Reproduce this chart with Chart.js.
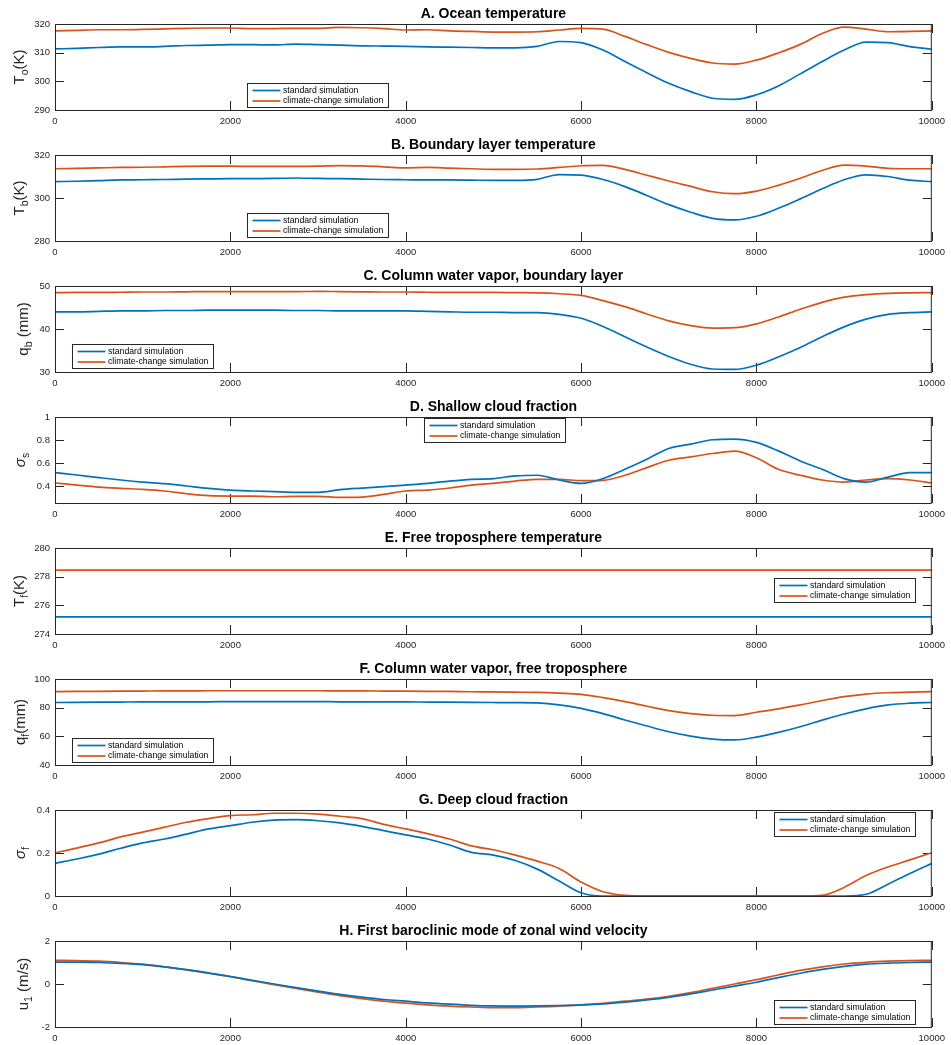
<!DOCTYPE html>
<html>
<head>
<meta charset="utf-8">
<script src="https://cdn.jsdelivr.net/npm/chart.js@4.4.1/dist/chart.umd.min.js"></script>
<style>
  html, body { margin: 0; padding: 0; background: #fff; }
  #wrap { position: relative; width: 951px; height: 1045px; }
  #wrap canvas { position: absolute; left: 0; }
</style>
</head>
<body>
<div id="wrap"></div>
<script>
// x grid of the model domain, every 250
const xs = [0,250,500,750,1000,1250,1500,1750,2000,2250,2500,2750,3000,3250,3500,3750,4000,4250,4500,4750,
  5000,5250,5500,5750,6000,6250,6500,6750,7000,7250,7500,7750,8000,8250,8500,8750,9000,9250,9500,9750,10000];
const xTicks = [0, 2000, 4000, 6000, 8000, 10000];

// A. ocean temperature (K)
const oceanStd = [311.3,311.5,311.8,312.0,312.0,312.2,312.5,312.6,312.8,312.8,312.7,313.0,312.8,312.6,312.4,312.3,312.2,312.0,311.9,311.8,
  311.7,311.7,312.2,313.9,313.5,310.9,306.9,303.0,299.3,296.4,294.1,293.7,295.3,298.4,302.6,306.9,310.9,313.7,313.5,312.1,311.2];
const oceanCC = [317.6,317.8,318.0,318.0,318.1,318.3,318.5,318.6,318.6,318.4,318.4,318.5,318.5,318.8,318.7,318.4,317.9,318.0,317.6,317.4,
  317.2,317.2,317.3,317.9,318.5,318.2,315.7,312.8,310.1,308.0,306.4,306.0,307.4,309.9,312.9,316.7,318.9,318.2,317.3,317.4,317.6];
const oceanTicks = [290, 300, 310, 320];

// B. boundary layer temperature (K)
const blStd = [307.6,307.8,308.1,308.4,308.5,308.6,308.8,308.9,309.0,309.0,309.1,309.3,309.1,309.0,308.8,308.6,308.5,308.4,308.4,308.3,
  308.2,308.2,308.7,310.9,310.6,308.6,305.3,301.2,296.9,293.4,290.5,289.8,291.5,295.2,299.6,304.3,308.5,310.8,310.0,308.3,307.6];
const blCC = [313.6,313.8,314.0,314.2,314.3,314.5,314.7,314.8,314.8,314.7,314.7,314.7,314.8,315.1,314.9,314.5,314.0,314.2,313.9,313.6,
  313.3,313.3,313.5,314.2,315.0,315.2,313.3,310.6,307.9,305.4,302.9,302.0,303.2,305.9,309.2,312.8,315.3,314.8,313.8,313.6,313.6];
const blTicks = [280, 300, 320];

// C. column water vapor, boundary layer (mm)
const qbStd = [44.0,44.0,44.1,44.2,44.2,44.3,44.3,44.4,44.4,44.4,44.4,44.3,44.3,44.2,44.2,44.2,44.2,44.1,44.0,43.9,
  43.9,43.8,43.8,43.4,42.5,40.6,38.2,35.8,33.6,31.8,30.7,30.6,31.6,33.5,35.7,38.2,40.5,42.3,43.4,43.8,44.0];
const qbCC = [48.45,48.5,48.5,48.55,48.6,48.6,48.65,48.7,48.7,48.7,48.7,48.7,48.75,48.7,48.65,48.6,48.6,48.55,48.5,48.5,
  48.5,48.45,48.4,48.2,47.8,46.6,45.2,43.5,41.9,40.8,40.2,40.3,41.2,42.8,44.6,46.2,47.4,48.0,48.3,48.4,48.45];
const qbTicks = [30, 40, 50];

// D. shallow cloud fraction
const sigSStd = [0.519,0.498,0.476,0.455,0.437,0.423,0.403,0.383,0.368,0.36,0.354,0.348,0.348,0.371,0.385,0.397,0.411,0.426,0.446,0.461,
  0.467,0.49,0.496,0.455,0.426,0.467,0.548,0.635,0.728,0.765,0.803,0.809,0.78,0.707,0.62,0.548,0.467,0.437,0.48,0.519,0.519];
const sigSCC = [0.429,0.411,0.394,0.383,0.374,0.36,0.336,0.319,0.316,0.316,0.31,0.313,0.313,0.304,0.307,0.33,0.36,0.368,0.386,0.411,
  0.426,0.446,0.461,0.461,0.449,0.452,0.496,0.562,0.626,0.655,0.684,0.704,0.647,0.548,0.496,0.455,0.437,0.455,0.467,0.455,0.429];
const sigSTicks = [0.4, 0.6, 0.8, 1];

// E. free troposphere temperature (K)
const tfStd = [275.2,275.2,275.2,275.2,275.2,275.2,275.2,275.2,275.2,275.2,275.2,275.2,275.2,275.2,275.2,275.2,275.2,275.2,275.2,275.2,
  275.2,275.2,275.2,275.2,275.2,275.2,275.2,275.2,275.2,275.2,275.2,275.2,275.2,275.2,275.2,275.2,275.2,275.2,275.2,275.2,275.2];
const tfCC = [278.45,278.45,278.45,278.45,278.45,278.45,278.45,278.45,278.45,278.45,278.45,278.45,278.45,278.45,278.45,278.45,278.45,278.45,278.45,278.45,
  278.45,278.45,278.45,278.45,278.45,278.45,278.45,278.45,278.45,278.45,278.45,278.45,278.45,278.45,278.45,278.45,278.45,278.45,278.45,278.45,278.45];
const tfTicks = [274, 276, 278, 280];

// F. column water vapor, free troposphere (mm)
const qfStd = [83.6,83.7,83.8,83.9,84.0,84.0,84.1,84.1,84.2,84.2,84.2,84.2,84.2,84.1,84.1,84.0,84.0,83.9,83.8,83.7,
  83.6,83.5,83.3,82.0,79.5,75.8,71.4,67.2,63.2,60.2,58.1,57.5,59.5,62.8,66.7,71.3,75.6,79.2,81.9,83.1,83.6];
const qfCC = [91.2,91.3,91.4,91.5,91.6,91.7,91.7,91.8,91.8,91.8,91.8,91.8,91.8,91.7,91.7,91.6,91.5,91.4,91.3,91.1,
  91.0,90.8,90.6,90.1,89.3,87.0,84.2,81.0,77.9,75.9,74.7,74.5,76.8,79.2,81.9,85.0,87.7,89.5,90.4,90.8,91.2];
const qfTicks = [40, 60, 80, 100];

// G. deep cloud fraction
const sigFStd = [0.152,0.172,0.195,0.222,0.247,0.265,0.288,0.312,0.327,0.343,0.353,0.355,0.35,0.34,0.324,0.304,0.284,0.265,0.237,0.203,
  0.19,0.165,0.125,0.07,0.015,0,0,0,0,0,0,0,0,0,0,0,0,0.008,0.055,0.105,0.152];
const sigFCC = [0.201,0.223,0.247,0.275,0.297,0.32,0.343,0.36,0.374,0.378,0.385,0.385,0.381,0.371,0.36,0.333,0.312,0.29,0.265,0.233,
  0.215,0.19,0.162,0.128,0.065,0.02,0.003,0,0,0,0,0,0,0,0,0.003,0.04,0.095,0.135,0.168,0.201];
const sigFTicks = [0, 0.2, 0.4];

// H. first baroclinic mode of zonal wind (m/s)
const u1Std = [1.02,1.02,1.0,0.96,0.9,0.8,0.67,0.52,0.35,0.17,0.0,-0.17,-0.33,-0.48,-0.61,-0.72,-0.8,-0.88,-0.94,-0.99,
  -1.02,-1.03,-1.02,-1.0,-0.97,-0.92,-0.84,-0.74,-0.62,-0.46,-0.28,-0.1,0.08,0.3,0.5,0.68,0.82,0.92,0.97,1.0,1.02];
const u1CC = [1.1,1.09,1.06,1.0,0.92,0.8,0.66,0.5,0.34,0.15,-0.03,-0.21,-0.38,-0.54,-0.68,-0.8,-0.89,-0.97,-1.03,-1.07,
  -1.1,-1.1,-1.07,-1.03,-0.97,-0.9,-0.8,-0.7,-0.57,-0.4,-0.2,0.0,0.2,0.42,0.63,0.8,0.93,1.01,1.06,1.09,1.1];
const u1Ticks = [-2, 0, 2];

const seriesNames = ['standard simulation', 'climate-change simulation'];
const seriesColors = ['#0072BD', '#D95319'];
const INK = '#262626';
const FONT = '"Liberation Sans", Arial, Helvetica, sans-serif';

const panels = [
  { title: 'A. Ocean temperature', lab: ['T', 'o', '(K)'], labX: 24, min: 290, max: 320, ticks: oceanTicks, std: oceanStd, cc: oceanCC, legend: [247, 83] },
  { title: 'B. Boundary layer temperature', lab: ['T', 'b', '(K)'], labX: 24, min: 280, max: 320, ticks: blTicks, std: blStd, cc: blCC, legend: [247, 82] },
  { title: 'C. Column water vapor, boundary layer', lab: ['q', 'b', ' (mm)'], labX: 28, min: 30, max: 50, ticks: qbTicks, std: qbStd, cc: qbCC, legend: [72, 82] },
  { title: 'D. Shallow cloud fraction', lab: ['σ', 's', ''], italic: true, labX: 25, min: 0.256, max: 1, ticks: sigSTicks, std: sigSStd, cc: sigSCC, legend: [424, 25] },
  { title: 'E. Free troposphere temperature', lab: ['T', 'f', '(K)'], labX: 24, min: 274, max: 280, ticks: tfTicks, std: tfStd, cc: tfCC, legend: [774, 54] },
  { title: 'F. Column water vapor, free troposphere', lab: ['q', 'f', '(mm)'], labX: 25, min: 40, max: 100, ticks: qfTicks, std: qfStd, cc: qfCC, legend: [72, 83] },
  { title: 'G. Deep cloud fraction', lab: ['σ', 'f', ''], italic: true, labX: 25, min: 0, max: 0.4, ticks: sigFTicks, std: sigFStd, cc: sigFCC, legend: [774, 26] },
  { title: 'H. First baroclinic mode of zonal wind velocity', lab: ['u', '1', ' (m/s)'], labX: 28, min: -2, max: 2, ticks: u1Ticks, std: u1Std, cc: u1CC, legend: [774, 83] }
];

// box, inward ticks, title, y label and legend in the MATLAB look
function axesDecor(p) {
  return {
    id: 'axesDecor',
    beforeDatasetsDraw(chart) {
      const ctx = chart.ctx;
      const { left, right, top, bottom } = chart.chartArea;
      const xs_ = chart.scales.x, ys_ = chart.scales.y;
      ctx.save();
      ctx.strokeStyle = INK;
      ctx.lineWidth = 1;
      ctx.beginPath();
      xTicks.forEach(v => {
        const px = Math.round(xs_.getPixelForValue(v)) + 0.5;
        ctx.moveTo(px, bottom); ctx.lineTo(px, bottom - 9);
        ctx.moveTo(px, top); ctx.lineTo(px, top + 9);
      });
      p.ticks.forEach(v => {
        const py = Math.round(ys_.getPixelForValue(v)) + 0.5;
        ctx.moveTo(left, py); ctx.lineTo(left + 9, py);
        ctx.moveTo(right, py); ctx.lineTo(right - 9, py);
      });
      ctx.stroke();
      ctx.restore();
    },
    afterDraw(chart) {
      const ctx = chart.ctx;
      const { left, right, top, bottom } = chart.chartArea;
      ctx.save();
      ctx.strokeStyle = INK;
      ctx.lineWidth = 1;
      ctx.strokeRect(left + 0.5, top + 0.5, right - left - 1, bottom - top);

      // title
      ctx.fillStyle = '#000';
      ctx.font = 'bold 14px ' + FONT;
      ctx.textAlign = 'center';
      ctx.textBaseline = 'alphabetic';
      ctx.fillText(p.title, (left + right) / 2, top - 6);

      // rotated y label with subscript
      const mainFont = (p.italic ? 'italic ' : '') + '15px ' + FONT;
      const subFont = '10.5px ' + FONT;
      const restFont = '15px ' + FONT;
      ctx.font = mainFont; const w0 = ctx.measureText(p.lab[0]).width;
      ctx.font = subFont; const w1 = ctx.measureText(p.lab[1]).width;
      ctx.font = restFont; const w2 = ctx.measureText(p.lab[2]).width;
      const total = w0 + w1 + w2;
      ctx.translate(p.labX, (top + bottom) / 2);
      ctx.rotate(-Math.PI / 2);
      ctx.textAlign = 'left';
      ctx.fillStyle = INK;
      let x0 = -total / 2;
      ctx.font = mainFont; ctx.fillText(p.lab[0], x0, 0); x0 += w0;
      ctx.font = subFont; ctx.fillText(p.lab[1], x0, 4); x0 += w1;
      ctx.font = restFont; ctx.fillText(p.lab[2], x0, 0);
      ctx.restore();

      // legend box
      const [lx, ly] = p.legend;
      const lw = 142, lh = 25;
      ctx.save();
      ctx.fillStyle = '#fff';
      ctx.fillRect(lx, ly, lw, lh);
      ctx.strokeStyle = INK;
      ctx.lineWidth = 1;
      ctx.strokeRect(lx + 0.5, ly + 0.5, lw - 1, lh - 1);
      ctx.font = '8.7px ' + FONT;
      ctx.textAlign = 'left';
      ctx.textBaseline = 'middle';
      chart.data.datasets.forEach((ds, k) => {
        const yy = ly + 7.5 + k * 10.5;
        ctx.strokeStyle = ds.borderColor;
        ctx.lineWidth = 1.7;
        ctx.beginPath();
        ctx.moveTo(lx + 5.5, yy); ctx.lineTo(lx + 33.5, yy);
        ctx.stroke();
        ctx.fillStyle = '#000';
        ctx.fillText(ds.label, lx + 36, yy);
      });
      ctx.restore();
    }
  };
}

const wrap = document.getElementById('wrap');
const PANEL_H = 131;

panels.forEach((p, i) => {
  const h = i === panels.length - 1 ? 1045 - PANEL_H * i : PANEL_H;
  const cv = document.createElement('canvas');
  cv.width = 951;
  cv.height = h;
  cv.style.top = (PANEL_H * i) + 'px';
  wrap.appendChild(cv);

  const tickFont = { family: FONT, size: 9.5 };
  new Chart(cv, {
    type: 'line',
    data: {
      datasets: [p.std, p.cc].map((vals, k) => ({
        label: seriesNames[k],
        data: xs.map((x, j) => ({ x, y: vals[j] })),
        borderColor: seriesColors[k],
        borderWidth: 1.7,
        pointRadius: 0,
        cubicInterpolationMode: 'monotone',
        fill: false
      }))
    },
    options: {
      responsive: false,
      animation: false,
      events: [],
      layout: { padding: { top: 24, right: 18, left: 0, bottom: 0 } },
      plugins: { legend: { display: false }, tooltip: { enabled: false } },
      scales: {
        x: {
          type: 'linear', min: 0, max: 10000,
          afterBuildTicks: s => { s.ticks = xTicks.map(value => ({ value })); },
          afterFit: s => { s.height = h - 24 - 86; },
          grid: { display: false, drawTicks: false },
          border: { display: false },
          ticks: { color: INK, font: tickFont, padding: 6, maxRotation: 0, autoSkip: false, callback: v => String(v) }
        },
        y: {
          type: 'linear', min: p.min, max: p.max,
          afterBuildTicks: s => { s.ticks = p.ticks.map(value => ({ value })); },
          afterFit: s => { s.width = 55; },
          grid: { display: false, drawTicks: false },
          border: { display: false },
          ticks: { color: INK, font: tickFont, padding: 5, autoSkip: false, callback: v => String(v) }
        }
      }
    },
    plugins: [axesDecor(p)]
  });
});
</script>
</body>
</html>
